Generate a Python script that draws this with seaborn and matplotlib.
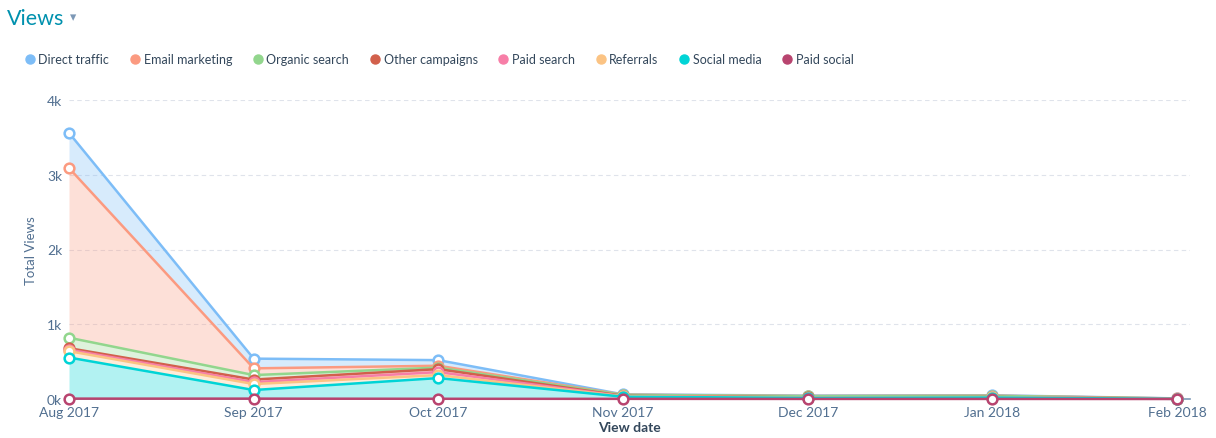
import numpy as np
import pandas as pd
import seaborn as sns
import matplotlib.pyplot as plt
from matplotlib.lines import Line2D

# ============ Data ============
months = ["Aug 2017", "Sep 2017", "Oct 2017", "Nov 2017", "Dec 2017", "Jan 2018", "Feb 2018"]

# series listed top of stack first (as in the legend)
sources = ["Direct traffic", "Email marketing", "Organic search", "Other campaigns",
           "Paid search", "Referrals", "Social media", "Paid social"]

direct_traffic = [470, 130, 75, 4, 5, 5, 1]
email_marketing = [2270, 90, 25, 3, 2, 3, 1]
organic_search = [140, 60, 20, 13, 16, 15, 2]
other_campaigns = [20, 35, 40, 4, 2, 2, 1]
paid_search = [20, 25, 40, 3, 2, 2, 0]
referrals = [85, 80, 40, 5, 3, 3, 1]
social_media = [550, 115, 277, 28, 14, 19, 2]
paid_social = [5, 5, 3, 2, 1, 1, 0]

colors = ["#7dbdf7", "#fb9a80", "#92d68d", "#d2604b",
          "#f77ea7", "#fbc383", "#00d4d6", "#b8446f"]

values = [direct_traffic, email_marketing, organic_search, other_campaigns,
          paid_search, referrals, social_media, paid_social]

# ============ Stack (bottom = last series) ============
vals = np.array(values, dtype=float)
cum = np.cumsum(vals[::-1], axis=0)[::-1]   # cumulative from the bottom up
pos = np.arange(len(months))

rows = []
for i, src in enumerate(sources):
    for j in range(len(months)):
        rows.append({"pos": pos[j], "source": src, "views": cum[i, j]})
df = pd.DataFrame(rows)

# ============ Style ============
sns.set_style("white")
plt.rcParams["font.family"] = ["Lato", "DejaVu Sans"]
text_col = "#33475b"
axis_col = "#516f90"

fig = plt.figure(figsize=(12.16, 4.39), dpi=100)
ax = fig.add_axes([69 / 1216, 39 / 439, (1190 - 69) / 1216, (400 - 101) / 439])

# fills between each cumulative line and the one below
for i in range(len(sources)):
    lower = cum[i + 1] if i + 1 < len(sources) else np.zeros(len(months))
    ax.fill_between(pos, lower, cum[i], color=colors[i], alpha=0.3, linewidth=0, zorder=1)

sns.lineplot(
    data=df, x="pos", y="views", hue="source", hue_order=sources,
    palette=colors, marker="o", markersize=7, markerfacecolor="white",
    markeredgewidth=1.8, linewidth=1.8, legend=False, ax=ax, zorder=3,
    clip_on=False,
)
for line, c in zip(ax.get_lines(), colors):
    line.set_markeredgecolor(c)
    line.set_markerfacecolor("white")

# ============ Axes ============
ax.set_xlim(0, 6.07)
ax.set_ylim(0, 4000)
ax.set_xticks(pos)
ax.set_xticklabels(months, fontsize=10, color=axis_col)
ax.set_yticks([0, 1000, 2000, 3000, 4000])
ax.set_yticklabels(["0k", "1k", "2k", "3k", "4k"], fontsize=10, color=axis_col)
ax.tick_params(axis="both", length=0, pad=5)
ax.yaxis.grid(True, linestyle=(0, (4, 3)), color="#dfe3eb", linewidth=0.8)
ax.set_axisbelow(True)
for s in ["top", "right", "left"]:
    ax.spines[s].set_visible(False)
ax.spines["bottom"].set_color("#7c98b6")
ax.spines["bottom"].set_linewidth(1.2)

ax.set_xlabel("View date", fontsize=10, fontweight="bold", color=text_col, labelpad=2)
ax.set_ylabel("Total Views", fontsize=9.5, color=axis_col, labelpad=7)

# ============ Title ============
fig.text(7 / 1216, 1 - 19 / 439, "Views", fontsize=15.5, color="#0091ae", va="center", ha="left")
fig.text(70 / 1216, 1 - 18 / 439, "\u25be", fontsize=9, color="#7c98b6", va="center",
         ha="left", family=["DejaVu Sans"])

# ============ Legend ============
handles = [Line2D([0], [0], marker="o", linestyle="", markersize=6.5,
                  markerfacecolor=c, markeredgecolor=c) for c in colors]
fig.legend(handles, sources, loc="center left", bbox_to_anchor=(14 / 1216, 1 - 60 / 439),
           ncol=8, frameon=False, handlelength=0.7, handletextpad=0.35,
           columnspacing=1.7, fontsize=9, labelcolor=text_col)

fig.savefig("out.png", dpi=100)
